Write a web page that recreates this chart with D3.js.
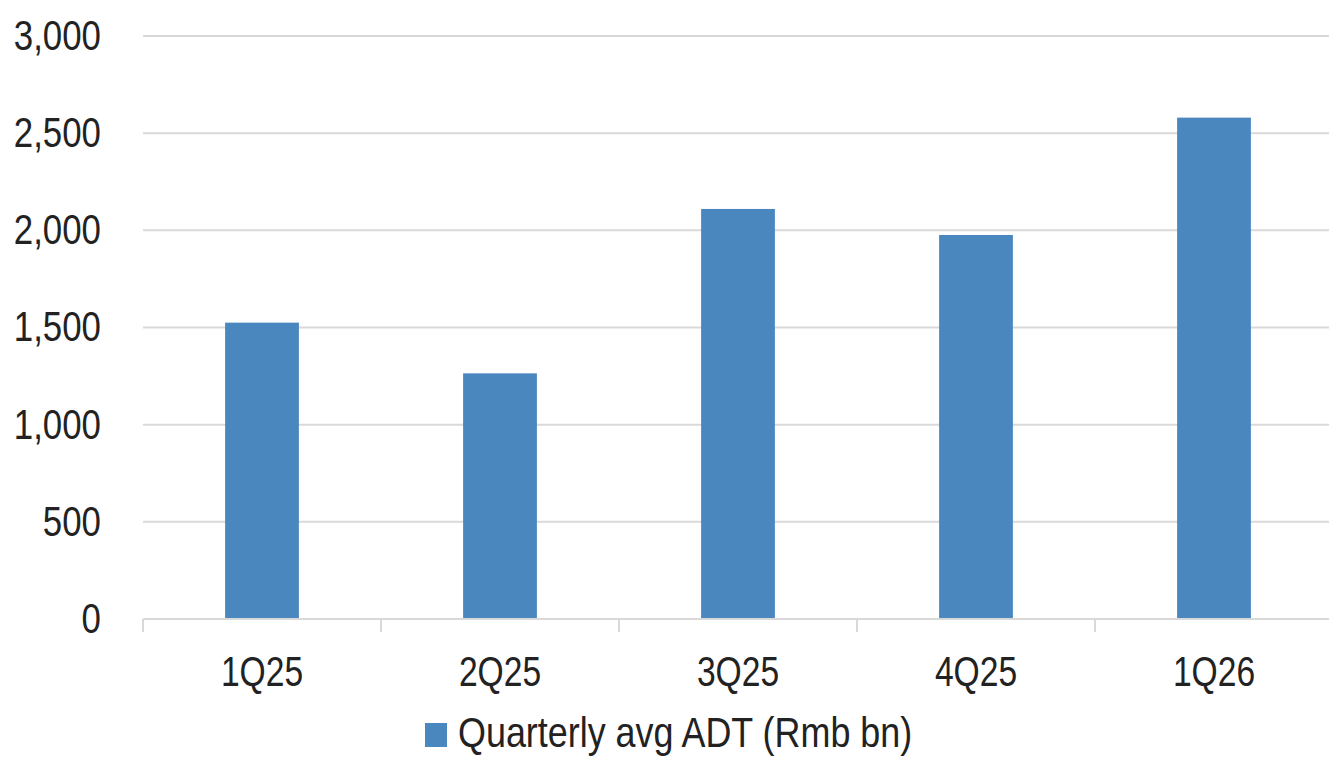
<!DOCTYPE html>
<html>
<head>
<meta charset="utf-8">
<script src="https://cdn.jsdelivr.net/npm/d3@7"></script>
<style>
  html, body { margin: 0; padding: 0; background: #ffffff; }
  svg { display: block; }
  text { font-family: "Liberation Sans", Arial, sans-serif; fill: #222222; }
</style>
</head>
<body>
<svg id="chart" width="1329" height="757"></svg>
<script>
// Quarterly average daily turnover, Rmb bn
const quarters = ["1Q25", "2Q25", "3Q25", "4Q25", "1Q26"];
const adtValues = [1525, 1264, 2110, 1976, 2580];
const yTicks = [0, 500, 1000, 1500, 2000, 2500, 3000];
const seriesName = "Quarterly avg ADT (Rmb bn)";

const W = 1329, H = 757;
const plotLeft = 143, plotRight = 1333, plotTop = 36, plotBottom = 619;
const barColor = "#4b87bf";
const gridColor = "#d9d9d9";

const svg = d3.select("#chart");

const x = d3.scaleBand()
  .domain(quarters)
  .range([plotLeft, plotRight])
  .paddingInner(0.69)
  .paddingOuter(0.345);

const y = d3.scaleLinear()
  .domain([0, 3000])
  .range([plotBottom, plotTop]);

// horizontal gridlines
svg.append("g")
  .selectAll("line")
  .data(yTicks.filter(d => d > 0))
  .join("line")
  .attr("x1", plotLeft)
  .attr("x2", W)
  .attr("y1", d => y(d))
  .attr("y2", d => y(d))
  .attr("stroke", gridColor)
  .attr("stroke-width", 2);

// bars
svg.append("g")
  .selectAll("rect")
  .data(quarters.map((q, i) => ({ q, v: adtValues[i] })))
  .join("rect")
  .attr("x", d => x(d.q))
  .attr("width", x.bandwidth())
  .attr("y", d => y(d.v))
  .attr("height", d => y(0) - y(d.v))
  .attr("fill", barColor);

// y axis labels
const yAxis = svg.append("g")
  .attr("transform", `translate(${plotLeft},0)`)
  .call(d3.axisLeft(y).tickValues(yTicks).tickFormat(d3.format(",")).tickSize(0));
yAxis.select(".domain").remove();
yAxis.selectAll("text")
  .attr("x", 0)
  .attr("dy", "0.32em")
  .attr("transform", "translate(-42,0) scale(0.83,1)")
  .style("font-size", "42px")
  .attr("text-anchor", "end")
  .attr("fill", "#222222");

// x axis baseline with ticks on category boundaries
svg.append("line")
  .attr("x1", plotLeft).attr("x2", W)
  .attr("y1", y(0)).attr("y2", y(0))
  .attr("stroke", gridColor).attr("stroke-width", 2);

const step = x.step();
const boundaries = d3.range(quarters.length + 1).map(i => plotLeft + i * step);
svg.append("g")
  .selectAll("line")
  .data(boundaries)
  .join("line")
  .attr("x1", d => d).attr("x2", d => d)
  .attr("y1", y(0)).attr("y2", y(0) + 13)
  .attr("stroke", gridColor).attr("stroke-width", 2);

const xAxis = svg.append("g")
  .attr("transform", `translate(0,${plotBottom})`)
  .call(d3.axisBottom(x).tickSize(0));
xAxis.select(".domain").remove();
xAxis.selectAll("text")
  .attr("y", 0)
  .attr("dy", 0)
  .attr("transform", "translate(0,67) scale(0.8,1)")
  .style("font-size", "42px")
  .attr("fill", "#222222");

// legend
const legend = svg.append("g");
legend.append("rect")
  .attr("x", 425).attr("y", 723)
  .attr("width", 22).attr("height", 24)
  .attr("fill", barColor);
legend.append("text")
  .attr("transform", "translate(458,747) scale(0.855,1)")
  .style("font-size", "42px")
  .text(seriesName);
</script>
</body>
</html>
